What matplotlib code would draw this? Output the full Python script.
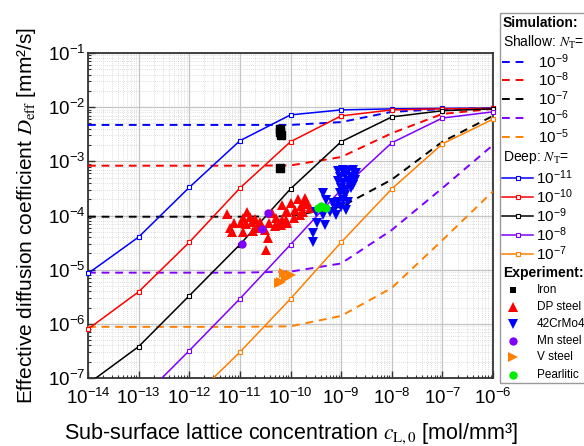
import numpy as np
import matplotlib
matplotlib.use("Agg")
import matplotlib.pyplot as plt
from matplotlib.lines import Line2D
from matplotlib.patches import Rectangle
from matplotlib.ticker import LogLocator, NullFormatter

plt.rcParams['font.family'] = ['Liberation Sans', 'DejaVu Sans']
plt.rcParams['mathtext.fontset'] = 'stix'
plt.rcParams['mathtext.default'] = 'regular'

# ---------------- data ----------------
c_sim = [1e-14, 1e-13, 1e-12, 1e-11, 1e-10, 1e-9, 1e-8, 1e-7, 1e-6]

# shallow traps (dashed)
shallow_labels = ['10^{-9}', '10^{-8}', '10^{-7}', '10^{-6}', '10^{-5}']
sh_blue   = [4.7e-3, 4.7e-3, 4.7e-3, 4.7e-3, 4.7e-3, 5.3e-3, 8.2e-3, 9.2e-3, 9.5e-3]
sh_red    = [8.3e-4, 8.3e-4, 8.3e-4, 8.3e-4, 8.4e-4, 1.2e-3, 3.3e-3, 7.5e-3, 9.3e-3]
sh_black  = [9.5e-5, 9.5e-5, 9.5e-5, 9.5e-5, 9.7e-5, 1.45e-4, 4.6e-4, 2.3e-3, 6.9e-3]
sh_purple = [8.8e-6, 8.8e-6, 8.8e-6, 8.8e-6, 9.2e-6, 1.3e-5, 5.4e-5, 3.2e-4, 2.0e-3]
sh_orange = [8.8e-7, 8.8e-7, 8.8e-7, 8.8e-7, 9.0e-7, 1.4e-6, 4.6e-6, 3.5e-5, 2.8e-4]

# deep traps (solid with open squares)
deep_labels = ['10^{-11}', '10^{-10}', '10^{-9}', '10^{-8}', '10^{-7}']
dp_blue   = [8.5e-6, 4.0e-5, 3.3e-4, 2.4e-3, 7.2e-3, 8.9e-3, 9.3e-3, 9.5e-3, 9.6e-3]
dp_red    = [8.0e-7, 3.9e-6, 3.2e-5, 3.2e-4, 2.3e-3, 6.9e-3, 8.9e-3, 9.3e-3, 9.5e-3]
dp_black  = [7.8e-8, 3.8e-7, 3.3e-6, 2.9e-5, 3.1e-4, 2.3e-3, 6.6e-3, 8.6e-3, 9.3e-3]
dp_purple = [8.0e-9, 3.7e-8, 3.2e-7, 2.9e-6, 2.9e-5, 3.0e-4, 2.2e-3, 6.3e-3, 8.2e-3]
dp_orange = [1.6e-9, 8.0e-9, 3.7e-8, 3.0e-7, 2.9e-6, 3.2e-5, 3.1e-4, 2.1e-3, 6.0e-3]

# experiments
iron_c = [6.3e-11, 6.3e-11, 6.4e-11, 6.3e-11]
iron_D = [4.0e-3, 3.5e-3, 3.1e-3, 7.6e-4]

dp_c = [5.6e-12, 7.8e-12, 7.1e-12, 1.15e-11, 1.05e-11, 1.4e-11, 1.55e-11, 1.3e-11,
        1.15e-11, 1.7e-11, 1.95e-11, 1.8e-11, 2.45e-11, 2.15e-11, 3.1e-11, 3.55e-11,
        3.3e-11, 4.4e-11, 5.2e-11, 6.0e-11, 6.9e-11, 8.3e-11, 8.7e-11, 3.8e-11,
        6.9e-11, 8.7e-11, 1.02e-10, 1.2e-10, 1.38e-10, 1.62e-10, 1.9e-10, 2.1e-10,
        2.4e-10, 1.55e-10, 8.3e-11, 1.15e-10, 1.74e-10, 2.0e-10, 6.5e-11, 6.3e-12, 5.0e-11]
dp_D = [1.07e-4, 7.4e-5, 5.0e-5, 8.9e-5, 7.2e-5, 1.17e-4, 9.5e-5, 7.1e-5,
        5.0e-5, 7.6e-5, 8.7e-5, 5.2e-5, 7.6e-5, 5.9e-5, 5.4e-5, 3.9e-5,
        2.3e-5, 1.12e-4, 9.1e-5, 7.2e-5, 8.3e-5, 1.15e-4, 7.2e-5, 7.2e-5,
        1.55e-4, 1.17e-4, 1.7e-4, 1.26e-4, 2.0e-4, 1.5e-4, 2.1e-4, 1.6e-4,
        1.38e-4, 1.02e-4, 8.3e-5, 8.9e-5, 1.17e-4, 1.86e-4, 6.8e-5, 6.0e-5, 6.3e-5]

cr_c = [8.7e-10, 1.1e-9, 1.35e-9, 1.7e-9, 2.0e-9, 9.3e-10, 1.17e-9, 1.58e-9, 1.86e-9,
        8.7e-10, 1.1e-9, 1.35e-9, 1.7e-9, 1.0e-9, 1.26e-9, 1.58e-9, 9.3e-10, 1.17e-9,
        4.4e-10, 5.1e-10, 6.9e-10, 8.7e-10, 1.1e-9, 1.35e-9, 7.4e-10, 1.0e-9, 1.26e-9,
        4.4e-10, 5.9e-10, 7.9e-10, 4.7e-10, 2.75e-10, 2.75e-10, 3.2e-10, 3.4e-10]
cr_D = [6.5e-4, 6.9e-4, 6.5e-4, 6.9e-4, 6.0e-4, 5.2e-4, 5.6e-4, 5.2e-4, 4.6e-4,
        4.3e-4, 4.0e-4, 4.3e-4, 3.6e-4, 3.2e-4, 2.95e-4, 3.2e-4, 2.6e-4, 2.4e-4,
        2.6e-4, 1.95e-4, 1.7e-4, 1.8e-4, 1.95e-4, 1.8e-4, 1.35e-4, 1.45e-4, 1.26e-4,
        1.02e-4, 1.17e-4, 1.02e-4, 6.8e-5, 4.7e-5, 3.2e-5, 1.17e-4, 7.2e-5]

mn_c = [3.55e-11, 2.75e-11, 1.1e-11]
mn_D = [1.12e-4, 5.6e-5, 3.0e-5]

v_c = [7.6e-11, 1.02e-10, 6.6e-11, 8.1e-11, 6.0e-11]
v_D = [8.7e-6, 7.9e-6, 6.0e-6, 6.9e-6, 5.6e-6]

pe_c = [3.5e-10, 4.0e-10, 4.4e-10, 5.1e-10]
pe_D = [1.35e-4, 1.5e-4, 1.45e-4, 1.35e-4]

exp_labels = ['Iron', 'DP steel', '42CrMo4', 'Mn steel', 'V steel', 'Pearlitic']

# ---------------- styles ----------------
col_blue, col_red, col_black = '#0000FF', '#FF0000', '#000000'
col_purple, col_orange, col_green = '#8000FF', '#FF8000', '#00EE00'
sim_colors = [col_blue, col_red, col_black, col_purple, col_orange]
dash = (0, (4, 3))

fig = plt.figure(figsize=(5.84, 4.46), dpi=100)
W, H = 584, 446
ax = fig.add_axes([88 / W, (H - 378) / H, 405 / W, 325 / H])

xlim = (1e-14, 1e-6)
ylim = (1e-7, 1e-1)

shallow = [sh_blue, sh_red, sh_black, sh_purple, sh_orange]
deep = [dp_blue, dp_red, dp_black, dp_purple, dp_orange]

for vals, col in zip(shallow, sim_colors):
    ax.plot(c_sim, vals, color=col, lw=1.4, linestyle=dash, zorder=3)

for vals, col in zip(deep, sim_colors):
    ax.plot(c_sim, vals, color=col, lw=1.1, zorder=4)
    cs = np.array(c_sim)
    vs = np.array(vals)
    m = (vs >= ylim[0]) & (vs <= ylim[1])
    ax.plot(cs[m], vs[m], linestyle='none', marker='s', ms=3.2, mfc='white',
            mec=col, mew=0.8, zorder=5, clip_on=False)

ax.plot(iron_c, iron_D, 's', color='black', ms=5.5, zorder=6)
ax.plot(dp_c, dp_D, '^', color=col_red, ms=7.5, mew=0, zorder=6)
ax.plot(cr_c, cr_D, 'v', color=col_blue, ms=7.5, mew=0, zorder=6)
ax.plot(mn_c, mn_D, 'o', color=col_purple, ms=6, mew=0, zorder=6)
ax.plot(v_c, v_D, '>', color=col_orange, ms=7.5, mew=0, zorder=6)
ax.plot(pe_c, pe_D, 'o', color=col_green, ms=6, mew=0, zorder=6)

ax.set_xscale('log')
ax.set_yscale('log')
ax.set_xlim(*xlim)
ax.set_ylim(*ylim)
ax.xaxis.set_major_locator(LogLocator(base=10, numticks=20))
ax.yaxis.set_major_locator(LogLocator(base=10, numticks=20))
ax.xaxis.set_minor_locator(LogLocator(base=10, subs=np.arange(2, 10), numticks=20))
ax.yaxis.set_minor_locator(LogLocator(base=10, subs=np.arange(2, 10), numticks=20))
ax.xaxis.set_minor_formatter(NullFormatter())
ax.yaxis.set_minor_formatter(NullFormatter())

ax.grid(True, which='major', color='#c4c4c4', lw=0.9, zorder=0)
ax.grid(True, which='minor', color='#d4d4d4', lw=0.6, linestyle=(0, (1, 1.5)), zorder=0)
ax.set_axisbelow(True)

ax.tick_params(which='both', direction='in', top=False, right=False, colors='#333333')
ax.tick_params(which='major', length=5, width=1.0, labelsize=13.5, labelcolor='black')
ax.tick_params(axis='x', which='major', pad=7)
ax.tick_params(axis='y', which='major', pad=2)
ax.tick_params(which='minor', length=2.5, width=0.8)
for sp in ax.spines.values():
    sp.set_linewidth(1.3)
    sp.set_color('#333333')

ax.set_xlabel(r'Sub-surface lattice concentration $\mathit{c}_{\mathrm{L,0}}$ [mol/mm³]',
              fontsize=15.5, labelpad=10)
ax.set_ylabel(r'Effective diffusion coefficient $\mathit{D}_{\mathrm{eff}}$ [mm²/s]',
              fontsize=15, labelpad=7)

# ---------------- legend (drawn manually in pixel coords) ----------------
lax = fig.add_axes([0, 0, 1, 1])
lax.set_xlim(0, W)
lax.set_ylim(H, 0)
lax.axis('off')
lax.add_patch(Rectangle((500, 13), 120, 370, facecolor='white', edgecolor='#999999', lw=1.0))

fs = 10
lax.text(503, 23, 'Simulation:', fontsize=fs, fontweight='bold', va='center', ha='left')
lax.text(503, 42, r'Shallow: $\mathit{N}_{\mathrm{T}}$=', fontsize=fs, va='center', ha='left')
sh_rows = [62, 80, 99, 118, 137]
for yy, col, lab in zip(sh_rows, sim_colors, shallow_labels):
    lax.add_line(Line2D([502, 528], [yy, yy], color=col, lw=1.4, linestyle=dash))
    lax.text(538, yy, '$' + lab + '$', fontsize=fs + 1, va='center', ha='left')
lax.text(503, 157, r'Deep: $\mathit{N}_{\mathrm{T}}$=', fontsize=fs, va='center', ha='left')
dp_rows = [178, 197, 216, 235, 254]
for yy, col, lab in zip(dp_rows, sim_colors, deep_labels):
    lax.add_line(Line2D([502, 533], [yy, yy], color=col, lw=1.1))
    lax.add_line(Line2D([518], [yy], linestyle='none', marker='s', ms=3.2,
                        mfc='white', mec=col, mew=0.8))
    lax.text(536, yy, '$' + lab + '$', fontsize=fs + 1, va='center', ha='left')
lax.text(503, 273, 'Experiment:', fontsize=fs, fontweight='bold', va='center', ha='left')
ex_rows = [290, 307, 324, 341, 357, 375]
ex_styles = [('s', 'black', 5), ('^', col_red, 7), ('v', col_blue, 7),
             ('o', col_purple, 6), ('>', col_orange, 7), ('o', col_green, 6)]
for yy, (mk, col, ms), lab in zip(ex_rows, ex_styles, exp_labels):
    lax.add_line(Line2D([513], [yy], linestyle='none', marker=mk, color=col, ms=ms, mew=0))
    lax.text(537, yy, lab, fontsize=8.5, va='center', ha='left')

fig.savefig('out.png', dpi=100)
